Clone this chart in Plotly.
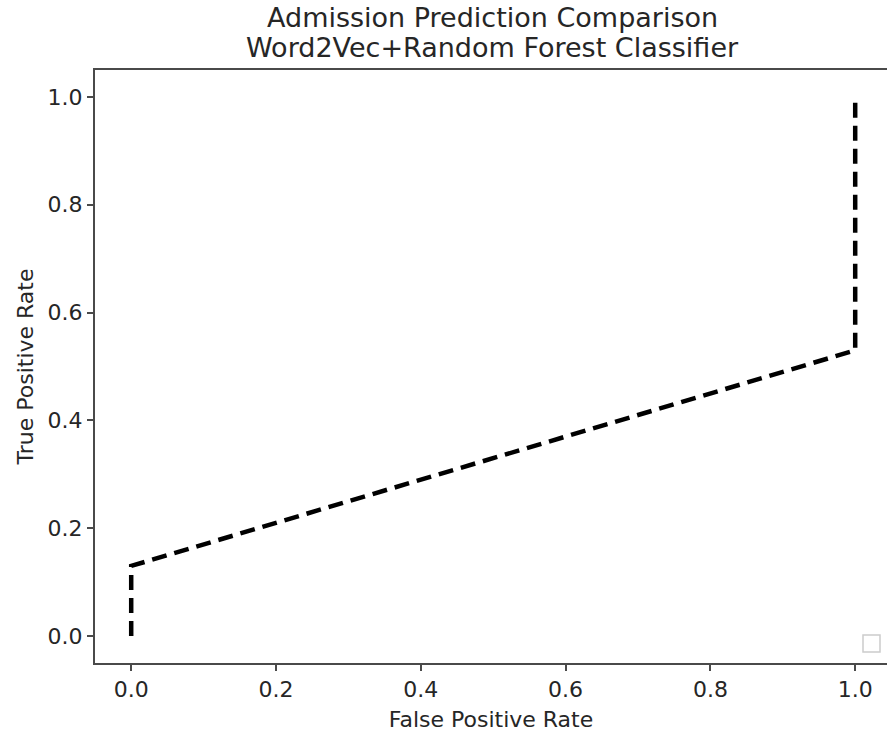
import plotly.graph_objects as go

# ROC curve points
fpr = [0.0, 0.0, 1.0, 1.0]
tpr = [0.0, 0.13, 0.53, 1.0]

tick_vals = [0.0, 0.2, 0.4, 0.6, 0.8, 1.0]
tick_text = ["0.0", "0.2", "0.4", "0.6", "0.8", "1.0"]

title_lines = ["Admission Prediction Comparison", "Word2Vec+Random Forest Classifier"]

W, H = 887, 738
ML, MR, MT, MB = 95, 0, 70, 75
FONT = "DejaVu Sans"
TXT = "#262626"
AX_COLOR = "#4a4a4a"

fig = go.Figure()
fig.add_trace(go.Scatter(
    x=fpr, y=tpr, mode="lines",
    line=dict(color="black", width=4.5, dash="15px,8px"),
    showlegend=False, hoverinfo="skip",
))

# 1 unit on x spans 724 px; the right edge of the frame falls beyond the page
px_per_unit = 724.0
x_left = -0.05
x_right = x_left + (W - ML - MR) / px_per_unit

fig.update_layout(
    width=W, height=H,
    margin=dict(l=ML, r=MR, t=MT, b=MB),
    paper_bgcolor="white", plot_bgcolor="white",
    font=dict(family=FONT, color=TXT),
    xaxis=dict(
        range=[x_left, x_right],
        tickvals=tick_vals, ticktext=tick_text,
        showgrid=False, zeroline=False,
        showline=True, linecolor=AX_COLOR, linewidth=2, mirror=True,
        ticks="outside", ticklen=6, tickwidth=1.5, tickcolor=AX_COLOR,
        tickfont=dict(size=22, family=FONT, color=TXT),
        title=dict(text="False Positive Rate", standoff=10,
                   font=dict(size=22, family=FONT, color=TXT)),
    ),
    yaxis=dict(
        range=[-0.05, 1.05],
        tickvals=tick_vals, ticktext=tick_text,
        showgrid=False, zeroline=False,
        showline=True, linecolor=AX_COLOR, linewidth=2, mirror=False,
        ticks="outside", ticklen=6, tickwidth=1.5, tickcolor=AX_COLOR,
        tickfont=dict(size=22, family=FONT, color=TXT),
        title=dict(text="True Positive Rate", standoff=8,
                   font=dict(size=22, family=FONT, color=TXT)),
    ),
)

pw, ph = W - ML - MR, H - MT - MB


def px_to_paper(px, py):
    return (px - ML) / pw, (H - MB - py) / ph


# two-line title, centred over the full axes frame
for line, py in zip(title_lines, [18, 47]):
    ax, ay = px_to_paper(493, py)
    fig.add_annotation(
        text=line, x=ax, y=ay, xref="paper", yref="paper",
        xanchor="center", yanchor="middle", showarrow=False,
        font=dict(size=27, family=FONT, color=TXT),
    )

# empty legend frame in the lower-right corner
x0, y1 = px_to_paper(863, 635)
x1, y0 = px_to_paper(880, 652)
fig.add_shape(
    type="rect", xref="paper", yref="paper",
    x0=x0, x1=x1, y0=y0, y1=y1,
    line=dict(color="#cccccc", width=1.5), fillcolor="white",
)

fig.write_html("out.html")
